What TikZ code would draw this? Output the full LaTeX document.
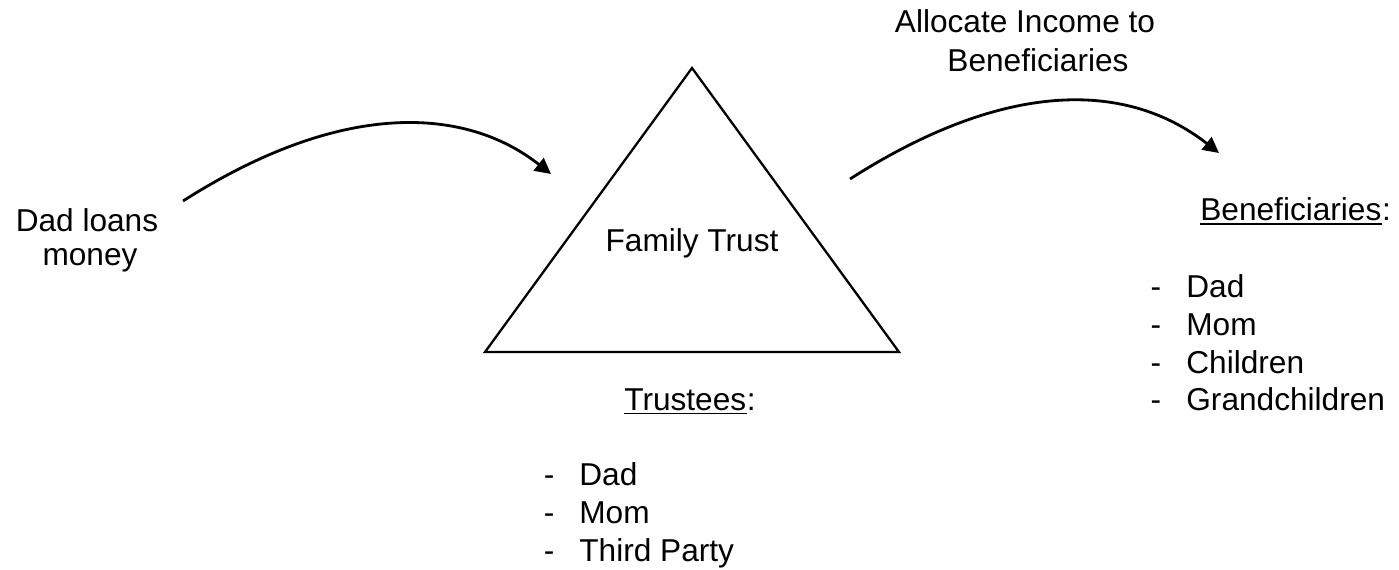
\documentclass[tikz,border=0pt]{standalone}
\usepackage{fontspec}
\setmainfont{Liberation Sans}
\usetikzlibrary{arrows.meta}
\begin{document}
\begin{tikzpicture}[x=0.02cm,y=-0.02cm,
  txt/.style={inner sep=0pt,font=\fontsize{18pt}{21.5pt}\selectfont},
  flow/.style={line width=1.6pt,-{Triangle[length=9pt,width=9pt]}},
  trust/.style={line width=1.3pt,line join=miter},
  uline/.style={line width=1pt}]
\useasboundingbox (0,0) rectangle (1399,569);
% triangle
\coordinate (apex) at (692,68);
\coordinate (bl) at (485,352);
\coordinate (br) at (899,352);
\draw[trust] (apex) -- (br) -- (bl) -- cycle;
\node[txt,anchor=base] (ft) at (692,251) {Family Trust};
% left text
\node[txt,anchor=base] (dl1) at (87,231) {Dad loans};
\node[txt,anchor=base] (dl2) at (90,265) {money};
% right header text
\node[txt,anchor=base] (al1) at (1025,32) {Allocate Income to};
\node[txt,anchor=base] (al2) at (1038,71) {Beneficiaries};
% arrows
\coordinate (a1s) at (183,201);
\coordinate (a1e) at (551,174);
\draw[flow] (a1s) .. controls (343,99) and (466,107) .. (a1e);
\coordinate (a2s) at (850,179);
\coordinate (a2e) at (1219,153);
\draw[flow] (a2s) .. controls (1000,83) and (1123,78) .. (a2e);
% trustees
\node[txt,anchor=base west] (tr) at (624,410) {Trustees};
\node[txt,anchor=base west] (trc) at (tr.base east) {:};
\draw[uline] ([yshift=-2pt]tr.base west) -- ([yshift=-2pt]tr.base east);
\node[txt,anchor=base west] (td1) at (543.5,485) {-};
\node[txt,anchor=base west] (tt1) at (579,485) {Dad};
\node[txt,anchor=base west] (td2) at (543.5,523) {-};
\node[txt,anchor=base west] (tt2) at (579,523) {Mom};
\node[txt,anchor=base west] (td3) at (543.5,561) {-};
\node[txt,anchor=base west] (tt3) at (579,561) {Third Party};
% beneficiaries
\node[txt,anchor=base west] (bn) at (1200,220) {Beneficiaries};
\node[txt,anchor=base west] (bnc) at (bn.base east) {:};
\draw[uline] ([yshift=-2.3pt]bn.base west) -- ([yshift=-2.3pt]bn.base east);
\node[txt,anchor=base west] (bd1) at (1150.3,297) {-};
\node[txt,anchor=base west] (bt1) at (1186,297) {Dad};
\node[txt,anchor=base west] (bd2) at (1150.3,335.5) {-};
\node[txt,anchor=base west] (bt2) at (1186,335.5) {Mom};
\node[txt,anchor=base west] (bd3) at (1150.3,373) {-};
\node[txt,anchor=base west] (bt3) at (1186,373) {Children};
\node[txt,anchor=base west] (bd4) at (1150.3,410) {-};
\node[txt,anchor=base west] (bt4) at (1186,410) {Grandchildren};
\end{tikzpicture}
\end{document}
